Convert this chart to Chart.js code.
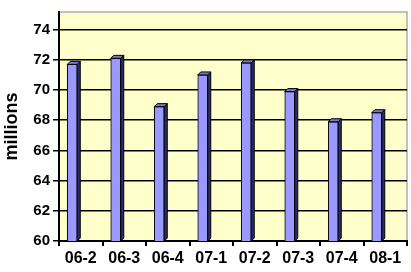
<!DOCTYPE html>
<html>
<head>
<meta charset="utf-8">
<script src="https://cdn.jsdelivr.net/npm/chart.js@4/dist/chart.umd.min.js"></script>
<style>
  html, body { margin: 0; padding: 0; background: #fff; }
  #wrap { width: 411px; height: 272px; }
</style>
</head>
<body>
<div id="wrap"><canvas id="chart"></canvas></div>
<script>
const quarters = ["06-2", "06-3", "06-4", "07-1", "07-2", "07-3", "07-4", "08-1"]
const subscribers = [71.7, 72.1, 68.9, 71.0, 71.8, 69.9, 67.9, 68.5]
const yTicks = [60, 62, 64, 66, 68, 70, 72, 74]

const DEPTH = 3
const SHIFT = 8.5

// back wall fill and border
const wallPlugin = {
    id: "wall",
    beforeDraw(chart) {
        const { ctx, chartArea: a } = chart
        ctx.save()
        ctx.fillStyle = "#FFFFCC"
        ctx.fillRect(a.left, a.top, a.right - a.left, a.bottom - a.top)
        ctx.strokeStyle = "#C0C0C0"
        ctx.lineWidth = 2
        ctx.beginPath()
        ctx.moveTo(a.left, a.top)
        ctx.lineTo(a.right, a.top)
        ctx.lineTo(a.right, a.bottom)
        ctx.stroke()
        ctx.restore()
    }
}

// move bars to the left of their category, like the old excel 3d look
const shiftPlugin = {
    id: "shift",
    afterDatasetsUpdate(chart) {
        chart.getDatasetMeta(0).data.forEach(el => { el.x -= SHIFT })
    }
}

// top and side faces
const boxPlugin = {
    id: "box3d",
    afterDatasetsDraw(chart) {
        const ctx = chart.ctx
        ctx.save()
        ctx.lineWidth = 1
        ctx.strokeStyle = "#000"
        chart.getDatasetMeta(0).data.forEach(el => {
            const l = el.x - el.width / 2
            const r = el.x + el.width / 2
            const t = el.y
            const b = Math.min(el.base, chart.chartArea.bottom)
            ctx.fillStyle = "#2E2E66"
            ctx.beginPath()
            ctx.moveTo(r, t)
            ctx.lineTo(r + DEPTH, t - DEPTH)
            ctx.lineTo(r + DEPTH, b - DEPTH)
            ctx.lineTo(r, b)
            ctx.closePath()
            ctx.fill()
            ctx.stroke()
            ctx.fillStyle = "#7777CC"
            ctx.beginPath()
            ctx.moveTo(l, t)
            ctx.lineTo(l + DEPTH, t - DEPTH)
            ctx.lineTo(r + DEPTH, t - DEPTH)
            ctx.lineTo(r, t)
            ctx.closePath()
            ctx.fill()
            ctx.stroke()
        })
        ctx.restore()
    }
}

new Chart(document.getElementById("chart"), {
    type: "bar",
    data: {
        labels: quarters,
        datasets: [{
            data: subscribers,
            backgroundColor: "#9999FF",
            borderColor: "#000",
            borderWidth: 1,
            barThickness: 10
        }]
    },
    options: {
        responsive: true,
        maintainAspectRatio: false,
        animation: false,
        layout: { padding: { top: 8, right: 4, left: 0, bottom: 0 } },
        plugins: { legend: { display: false }, tooltip: { enabled: false } },
        scales: {
            x: {
                grid: { drawOnChartArea: false, drawTicks: true, tickLength: 5, color: "#000", lineWidth: 2 },
                border: { color: "#000", width: 2 },
                ticks: { color: "#000", font: { family: "Arial, Liberation Sans", size: 16, weight: "bold" }, padding: 3, maxRotation: 0 },
                afterFit(scale) { scale.height = 31 }
            },
            y: {
                min: 60,
                max: 75.17,
                afterBuildTicks(scale) { scale.ticks = yTicks.map(v => ({ value: v })) },
                grid: { color: "#000", lineWidth: 1.5, tickLength: 6 },
                border: { color: "#000", width: 2 },
                ticks: { color: "#000", font: { family: "Arial, Liberation Sans", size: 15, weight: "bold" }, padding: 3 },
                title: { display: true, text: "millions", color: "#000", font: { family: "Arial, Liberation Sans", size: 18, weight: "bold" }, padding: 1 },
                afterFit(scale) { scale.width = 59 }
            }
        }
    },
    plugins: [wallPlugin, shiftPlugin, boxPlugin]
})
</script>
</body>
</html>
